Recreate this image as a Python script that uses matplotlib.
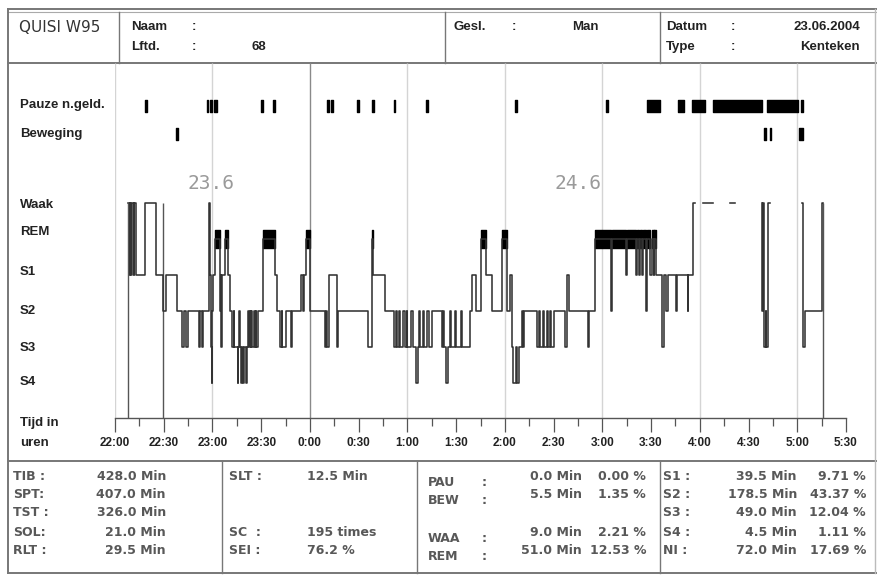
import numpy as np
import matplotlib
matplotlib.use("Agg")
import matplotlib.pyplot as plt
from matplotlib.ticker import MultipleLocator

# ---------------- data (minutes after 22:00) ----------------
stage_level = {"S4": 0, "S3": 1, "S2": 2, "S1": 3, "REM": 4, "W": 5, "NI": np.nan}
stage_names = ["Waak", "REM", "S1", "S2", "S3", "S4"]

hyp_min = [8.0, 9.0, 9.5, 10.0, 10.5, 11.5, 12.0, 13.0, 18.5, 25.5, 29.5, 31.5, 38.0,
           41.5, 42.5, 43.5, 45.0, 52.0, 52.5, 53.5, 54.0, 58.0, 58.5, 59.0, 59.5, 60.0,
           60.5, 61.5, 64.5, 65.0, 65.5, 66.0, 67.5, 69.5, 71.0, 72.0, 73.0, 73.5, 75.5,
           76.0, 76.5, 77.0, 77.5, 78.0, 79.0, 79.5, 80.5, 81.0, 82.0, 82.5, 83.0, 83.5, 84.0,
           84.5, 85.5, 86.0,
           86.5, 87.0, 88.0, 91.0, 98.5, 100.0, 101.5, 102.5, 103.0, 105.5, 108.5, 109.0,
           114.5, 116.0, 116.5, 117.5, 120.0, 129.0, 130.0, 130.5, 132.0, 136.5, 137.0,
           155.5, 158.5, 159.0, 166.0, 172.0, 173.0, 173.5, 175.0, 175.5, 177.0, 178.5,
           179.5, 180.0, 182.5, 183.5, 185.5, 186.5, 187.0, 187.5, 189.5, 190.0, 192.0,
           193.0, 195.0, 201.0, 202.0, 202.5, 204.0, 205.0, 206.5, 207.0, 209.5, 210.0,
           213.0, 213.5, 218.5, 220.0, 222.5, 225.5, 228.5, 232.0, 238.5, 241.5, 243.0,
           244.5, 245.0, 247.0, 247.5, 248.5, 250.5, 251.0, 252.0, 259.5, 261.0, 261.5,
           263.5, 264.0, 266.0, 266.5, 268.0, 268.5, 270.5, 277.0, 278.0, 278.5, 279.5,
           291.0, 292.0, 295.5, 305.5, 306.0, 314.5, 315.0, 321.0, 321.5, 322.5, 323.0,
           324.5, 325.0, 327.0, 327.5, 329.5, 330.5, 331.5, 332.0, 333.0, 337.0, 338.0,
           339.5, 340.5, 345.5, 346.0, 352.5, 353.0, 356.0, 357.0, 362.0, 368.0, 378.5,
           381.5, 398.0, 398.5, 399.0, 399.5, 400.5, 401.0, 402.0, 403.0, 423.0, 423.5,
           424.5, 435.5, 436.0]
hyp_stage = ["W", "S1", "W", "S1", "W", "S1", "W", "S1", "W", "S1", "S2", "S1", "S2",
             "S3", "S2", "S3", "S2", "S3", "S2", "S3", "S2", "W", "S1", "S3", "S4", "S2",
             "S1", "REM", "S2", "S1", "S3", "S1", "REM", "S1", "S2", "S3", "S2", "S3", "S4",
             "S3", "S2", "S3", "S4", "S3", "S4", "S3", "S4", "S3", "S2", "S3", "S2", "S3",
             "S2", "S3", "S2", "S3",
             "S2", "S3", "S2", "REM", "S1", "S2", "S3", "S2", "S3", "S2", "S3", "S2",
             "S1", "S2", "S1", "REM", "S2", "S3", "S2", "S3", "S1", "S3", "S2",
             "S3", "REM", "S1", "S2", "S3", "S2", "S3", "S2", "S3", "S2", "S3",
             "S2", "S3", "S2", "S3", "S4", "S3", "S2", "S3", "S2", "S3", "S2",
             "S3", "S2", "S3", "S2", "S3", "S4", "S3", "S2", "S3", "S2", "S3",
             "S2", "S3", "S2", "S1", "S2", "REM", "S1", "S2", "REM", "S2", "S1",
             "S3", "S4", "S3", "S4", "S3", "S2", "S3", "S2", "S3", "S2", "S3",
             "S2", "S3", "S2", "S3", "S2", "S3", "S2", "S3", "S2", "S1", "S2",
             "S3", "S2", "REM", "S2", "REM", "S1", "REM", "S1", "REM", "S1", "REM",
             "S1", "REM", "S2", "REM", "S1", "REM", "S1", "REM", "S1", "S3", "S1",
             "S2", "S1", "S2", "S1", "S2", "S1", "W", "NI", "W", "NI", "W",
             "NI", "W", "S2", "W", "S3", "S2", "S3", "W", "NI", "W", "S3",
             "S2", "W", "NI"]
assert len(hyp_min) == len(hyp_stage)

pause_start = [18.5, 56.5, 58.5, 61.0, 90.0, 97.5, 130.5, 133.0, 149.0, 158.5, 171.5, 191.5,
               246.0, 302.5, 327.5, 346.5, 355.0, 368.0, 401.5, 422.5]
pause_len = [1.0, 1.0, 1.0, 1.5, 1.0, 1.0, 1.0, 1.0, 1.0, 1.0, 1.0, 1.0,
             1.5, 1.0, 8.0, 4.0, 8.0, 30.0, 19.0, 1.0]
bew_start = [37.5, 399.5, 403.0, 421.0]
bew_len = [1.0, 1.0, 1.0, 2.5]

lights_off, sleep_onset, lights_on = 8.0, 29.5, 436.0
hour_lines = [0, 60, 120, 180, 240, 300, 360, 420]
tick_min = list(range(0, 451, 30))
tick_labels = ["22:00", "22:30", "23:00", "23:30", "0:00", "0:30", "1:00", "1:30", "2:00",
               "2:30", "3:00", "3:30", "4:00", "4:30", "5:00", "5:30"]
day_labels = ["23.6", "24.6"]
day_label_min = [59, 285]

col1_lab = ["TIB :", "SPT:", "TST :", "SOL:", "RLT :"]
col1_val = ["428.0 Min", "407.0 Min", "326.0 Min", "21.0 Min", "29.5 Min"]
col2_row = [0, 3, 4]
col2_lab = ["SLT :", "SC  :", "SEI :"]
col2_val = ["12.5 Min", "195 times", "76.2 %"]
col3_row = [0, 1, 3, 4]
col3_lab = ["PAU", "BEW", "WAA", "REM"]
col3_min = ["0.0 Min", "5.5 Min", "9.0 Min", "51.0 Min"]
col3_pct = ["0.00 %", "1.35 %", "2.21 %", "12.53 %"]
col4_lab = ["S1 :", "S2 :", "S3 :", "S4 :", "NI :"]
col4_min = ["39.5 Min", "178.5 Min", "49.0 Min", "4.5 Min", "72.0 Min"]
col4_pct = ["9.71 %", "43.37 %", "12.04 %", "1.11 %", "17.69 %"]

# ---------------- styling ----------------
COND = ["Liberation Sans", "DejaVu Sans"]
WIDE = ["DejaVu Sans"]
DARK = "#222222"
GREY = "#585858"
LINE = "#555555"

fig = plt.figure(figsize=(8.77, 5.78), dpi=100)

# background / frame layer in pixel units
bg = fig.add_axes([0, 0, 1, 1])
bg.set_xlim(0, 877)
bg.set_ylim(578, 0)
bg.axis("off")

def hline(y, x0, x1, c="#777777", lw=1.0):
    bg.plot([x0, x1], [y, y], color=c, lw=lw)

def vline(x, y0, y1, c="#777777", lw=1.0):
    bg.plot([x, x], [y0, y1], color=c, lw=lw)

hline(9, 8, 877, lw=1.4)
hline(12, 8, 877, c="#aaaaaa", lw=0.8)
hline(63, 8, 877, lw=1.4)
hline(461, 8, 877, lw=1.4)
hline(573, 8, 877, lw=1.4)
vline(8, 9, 573, lw=1.4)
vline(875, 9, 573, lw=1.0, c="#bbbbbb")
for x in [119, 445, 660]:
    vline(x, 12, 63)
for x in [222, 417, 660]:
    vline(x, 461, 573)

# header
bg.text(19, 27, "QUISI W95", fontsize=11, family=WIDE, color="#333333", va="center")
hdr = dict(fontsize=9.5, family=COND, color=DARK, va="center", fontweight="bold")
bg.text(131, 27, "Naam", **hdr)
bg.text(192, 27, ":", **hdr)
bg.text(131, 47, "Lftd.", **hdr)
bg.text(192, 47, ":", **hdr)
bg.text(252, 47, "68", **hdr)
bg.text(453, 27, "Gesl.", **hdr)
bg.text(512, 27, ":", **hdr)
bg.text(572, 27, "Man", **hdr)
bg.text(666, 27, "Datum", **hdr)
bg.text(731, 27, ":", **hdr)
bg.text(860, 27, "23.06.2004", ha="right", **hdr)
bg.text(666, 47, "Type", **hdr)
bg.text(731, 47, ":", **hdr)
bg.text(860, 47, "Kenteken", ha="right", **hdr)

# stats panel
rows = [476, 494, 513, 532, 550]
st = dict(fontsize=9, family=WIDE, color=GREY, va="center", fontweight="bold")
for r, lab, val in zip(rows, col1_lab, col1_val):
    bg.text(13, r, lab, **st)
    bg.text(166, r, val, ha="right", **st)
for i, lab, val in zip(col2_row, col2_lab, col2_val):
    bg.text(229, rows[i], lab, **st)
    bg.text(307, rows[i], val, **st)
for i, lab, mn, pc in zip(col3_row, col3_lab, col3_min, col3_pct):
    bg.text(428, rows[i] + 6, lab, **st)
    bg.text(482, rows[i] + 6, ":", **st)
    bg.text(582, rows[i], mn, ha="right", **st)
    bg.text(646, rows[i], pc, ha="right", **st)
for r, lab, mn, pc in zip(rows, col4_lab, col4_min, col4_pct):
    bg.text(663, r, lab, **st)
    bg.text(797, r, mn, ha="right", **st)
    bg.text(866, r, pc, ha="right", **st)

# ---------------- hypnogram axes ----------------
# level L sits at pixel y = 383 - 36*L ; axes spans pixel y 63..455, x 115..846
ax = fig.add_axes([115 / 877, 1 - 455 / 578, 731 / 877, 392 / 578])
ax.patch.set_alpha(0)
ax.set_xlim(0, 450)
ax.set_ylim(-2.0, 8.889)
for s in ["top", "right", "left"]:
    ax.spines[s].set_visible(False)
axis_y = -0.97
ax.spines["bottom"].set_position(("data", axis_y))
ax.spines["bottom"].set_color(LINE)
ax.spines["bottom"].set_linewidth(1.0)
ax.set_yticks([])
ax.set_xticks(tick_min)
ax.set_xticklabels(tick_labels, family=COND, fontsize=8.5, color=DARK, fontweight="bold")
ax.xaxis.set_minor_locator(MultipleLocator(15))
ax.tick_params(axis="x", which="major", direction="out", length=10, width=0.9, color=LINE, pad=4)
ax.tick_params(axis="x", which="minor", direction="out", length=6, width=0.9, color=LINE)

# hour grid lines
for h in hour_lines:
    c = "#8a8a8a" if h == 120 else "#d4d4d4"
    ax.vlines(h, axis_y, 8.889, color=c, lw=1.0, zorder=0)

# lights off / sleep onset / lights on markers
ax.vlines([lights_off, sleep_onset, lights_on], axis_y, stage_level["W"], color=LINE, lw=1.0)

lev = np.array([stage_level[s] for s in hyp_stage], dtype=float)
t = np.array(hyp_min)
ax.step(t, lev, where="post", color="#333333", lw=1.15)

# REM drawn as thick black blocks
rem_bars = [(t[i], t[i + 1] - t[i]) for i in range(len(t) - 1) if hyp_stage[i] == "REM"]
ax.broken_barh(rem_bars, (stage_level["REM"] - 0.25, 0.5), color="black")

# event rows
ax.broken_barh(list(zip(pause_start, pause_len)), (7.53, 0.32), color="black", clip_on=False)
ax.broken_barh(list(zip(bew_start, bew_len)), (6.75, 0.32), color="black", clip_on=False)

for m, lab in zip(day_label_min, day_labels):
    ax.text(m, 5.55, lab, ha="center", va="center", fontsize=14, family="DejaVu Sans Mono",
            color="#9a9a9a")

# row labels on the left
ylab = ax.get_yaxis_transform()
lab_kw = dict(transform=ylab, fontsize=9.5, family=COND, color=DARK, va="center",
              fontweight="bold", clip_on=False)
ax.text(-0.130, 7.72, "Pauze n.geld.", **lab_kw)
ax.text(-0.130, 6.92, "Beweging", **lab_kw)
for name, y in zip(stage_names, [4.94, 4.2, 3.08, 2.0, 0.97, 0.03]):
    ax.text(-0.130, y, name, **lab_kw)
ax.text(-0.130, -1.11, "Tijd in", **lab_kw)
ax.text(-0.130, -1.67, "uren", **lab_kw)

fig.savefig("out.png", dpi=100)
